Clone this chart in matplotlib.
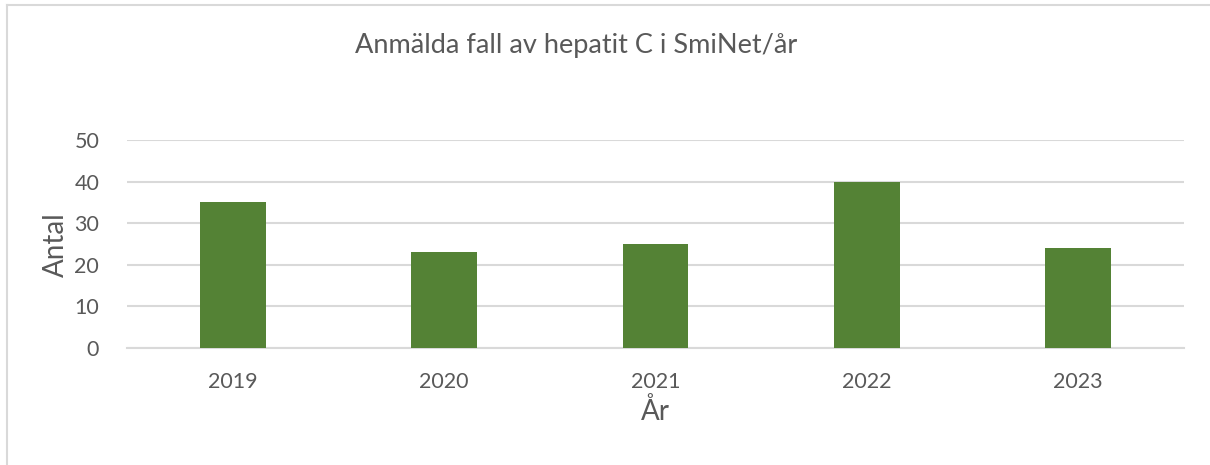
import matplotlib
matplotlib.use("Agg")
import matplotlib.pyplot as plt
from matplotlib.lines import Line2D

years = ["2019", "2020", "2021", "2022", "2023"]
counts = [35, 23, 25, 40, 24]
yticks = [0, 10, 20, 30, 40, 50]

title = "Anmälda fall av hepatit C i SmiNet/år"
xlabel = "År"
ylabel = "Antal"

plt.rcParams['font.family'] = ['Lato', 'DejaVu Sans']
TXT = '#595959'
GRID = '#D9D9D9'
BAR = '#548235'

W, H = 1210, 465
fig = plt.figure(figsize=(W/100, H/100), dpi=100)
ax = fig.add_axes([127/W, 1-348/H, (1184-127)/W, (348-140)/H])

x = list(range(len(years)))
ax.bar(x, counts, width=0.312, color=BAR, zorder=3)
ax.set_xlim(-0.5, len(years)-0.5)
ax.set_ylim(0, 50)
ax.set_yticks(yticks)
ax.set_xticks(x)
ax.set_xticklabels(years)
ax.yaxis.grid(True, color=GRID, linewidth=1.5, zorder=0)
for s in ['top', 'right', 'left']:
    ax.spines[s].set_visible(False)
ax.spines['bottom'].set_color(GRID)
ax.spines['bottom'].set_linewidth(1.5)
ax.tick_params(axis='both', length=0, colors=TXT, labelsize=15.5)
ax.tick_params(axis='y', pad=20)
ax.tick_params(axis='x', pad=17)

fig.text(576/W, 1-46/H, title, ha='center', va='center', fontsize=19.5, color=TXT)
fig.text(655/W, 1-411/H, xlabel, ha='center', va='center', fontsize=20, color=TXT)
fig.text(56/W, 1-245/H, ylabel, ha='center', va='center', fontsize=20, color=TXT, rotation=90)

# chart border (left and top visible)
fig.add_artist(Line2D([6.5/W, 6.5/W], [0, 1-5.5/H], transform=fig.transFigure, color=GRID, linewidth=1.5))
fig.add_artist(Line2D([6.5/W, 1], [1-5.5/H, 1-5.5/H], transform=fig.transFigure, color=GRID, linewidth=1.5))

fig.savefig("out.png", dpi=100)
